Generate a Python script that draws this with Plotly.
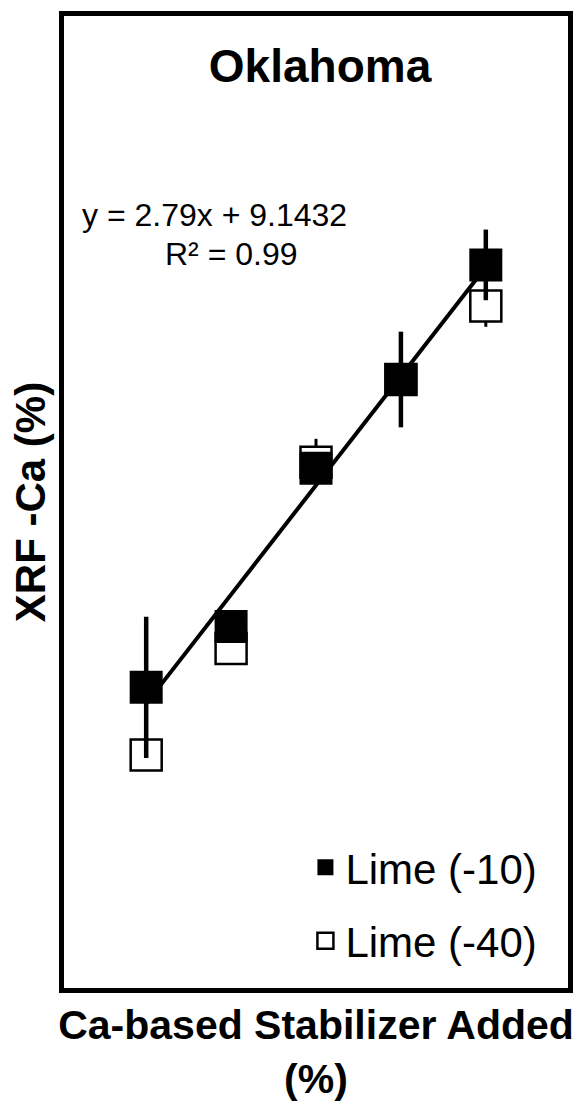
import numpy as np
import plotly.graph_objects as go

# ---- data ----
stabilizer_added = [0, 2, 4, 6, 8]
lime_10 = [9.95, 13.07, 21.18, 25.72, 31.59]
lime_10_err = [3.62, 0.5, 0.5, 2.45, 1.81]
lime_40 = [6.48, 11.94, 21.48, 25.72, 29.49]
lime_40_err = [0.2, 0.4, 1.2, 0.5, 1.07]

series_names = ["Lime (-10)", "Lime (-40)"]
chart_title = "Oklahoma"
x_title = "Ca-based Stabilizer Added<br>(%)"
y_title = "XRF -Ca (%)"
equation_line = "y = 2.79x + 9.1432"
r2_line = "R² = 0.99"

# linear trendline of Lime (-10)
slope, intercept = np.polyfit(stabilizer_added, lime_10, 1)
x_fit = np.array([min(stabilizer_added), max(stabilizer_added)])
y_fit = slope * x_fit + intercept

FONT = "Liberation Sans, Arial, sans-serif"

fig = go.Figure()

fig.add_trace(go.Scatter(
    x=x_fit, y=y_fit, mode="lines",
    line=dict(color="black", width=4),
    showlegend=False, hoverinfo="skip",
))

fig.add_trace(go.Scatter(
    x=stabilizer_added, y=lime_40, mode="markers", name=series_names[1],
    legendgroup="b", legendrank=2,
    marker=dict(symbol="square", size=31, color="white",
                line=dict(color="black", width=2.5)),
    error_y=dict(type="data", array=lime_40_err, visible=True,
                 color="black", thickness=3, width=0),
))

fig.add_trace(go.Scatter(
    x=stabilizer_added, y=lime_10, mode="markers", name=series_names[0],
    legendgroup="a", legendrank=1,
    marker=dict(symbol="square", size=33, color="black",
                line=dict(width=0)),
    error_y=dict(type="data", array=lime_10_err, visible=True,
                 color="black", thickness=4.5, width=0),
))

fig.add_annotation(
    text=equation_line, xref="paper", yref="paper",
    x=(80 - 64) / 509, y=1 - (212 - 12) / 976, xanchor="left", yanchor="middle",
    showarrow=False, font=dict(family=FONT, size=32, color="black"),
)
fig.add_annotation(
    text=r2_line, xref="paper", yref="paper",
    x=(164 - 64) / 509, y=1 - (251 - 12) / 976, xanchor="left", yanchor="middle",
    showarrow=False, font=dict(family=FONT, size=32, color="black"),
)

axis_common = dict(
    showgrid=False, zeroline=False, showticklabels=False, ticks="",
    showline=True, linecolor="black", linewidth=5, mirror=True,
)

fig.update_layout(
    width=584, height=1110,
    margin=dict(l=64, r=11, t=12, b=122),
    paper_bgcolor="white", plot_bgcolor="white",
    title=dict(text=chart_title, x=0.548, xanchor="center",
               y=1 - 66 / 1110, yanchor="middle", yref="container",
               font=dict(family=FONT, size=46, color="black", weight="bold")),
    xaxis=dict(range=[-1.936, 9.936],
               title=dict(text=x_title, standoff=20,
                          font=dict(family=FONT, size=41, color="black", weight="bold")),
               **axis_common),
    yaxis=dict(range=[-5.45, 44.34],
               title=dict(text=y_title, standoff=2,
                          font=dict(family=FONT, size=42, color="black", weight="bold")),
               **axis_common),
    legend=dict(x=0.479, y=0.159, xanchor="left", yanchor="top",
                traceorder="grouped", tracegroupgap=16,
                itemwidth=30, bgcolor="rgba(0,0,0,0)",
                font=dict(family=FONT, size=42, color="black")),
    showlegend=True,
)

fig.write_html("out.html")
